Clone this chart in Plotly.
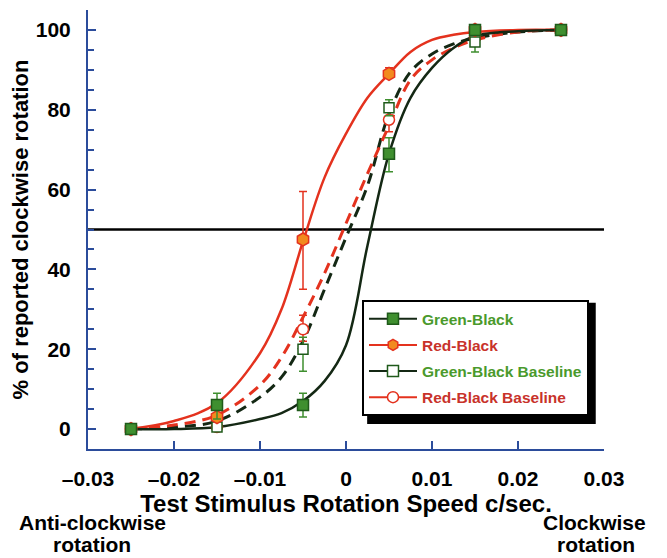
import plotly.graph_objects as go

# ---- data ----
speeds = [-0.025, -0.015, -0.005, 0.005, 0.015, 0.025]

gb_vals = [0, 6, 6, 69, 100, 100]
gb_err_plus = [0, 3, 3, 4, 0, 0]
gb_err_minus = [0, 3.5, 3, 4.5, 0, 0]

rb_vals = [0, 3, 47.5, 89, 100, 100]
rb_err_plus = [0, 0, 12, 1.5, 0, 0]
rb_err_minus = [0, 0, 12.5, 0, 0, 0]

gbb_vals = [0, 0.5, 20, 80.5, 97, 100]
gbb_err_plus = [0, 0, 3, 2, 2.5, 0]
gbb_err_minus = [0, 0, 5.5, 2, 2.5, 0]

rbb_vals = [0, 0.5, 25, 77.5, 98, 100]
rbb_err_plus = [0, 0, 3.5, 3, 0, 0]
rbb_err_minus = [0, 0, 3, 3, 0, 0]

# fitted curves
curve_x = [-0.025, -0.02, -0.015, -0.01, -0.0075, -0.005, -0.0025, 0,
           0.0025, 0.005, 0.0075, 0.01, 0.0125, 0.015, 0.02, 0.025]
gb_curve = [0, 0, 0.5, 2.5, 4, 7, 12, 21, 46, 69, 83, 90.5, 95.5, 98.5, 99.7, 100]
rb_curve = [0, 2, 6.5, 19, 30, 47, 63, 74, 83, 89, 94.5, 97.5, 98.8, 99.5, 100, 100]
gbb_curve = [0, 0.5, 2, 8, 13, 22, 35, 48, 61, 79, 89.5, 94, 96.5, 98, 99.5, 100]
rbb_curve = [0, 1, 3.5, 11, 18, 28, 39, 51.5, 64, 76, 87.5, 92.5, 95.5, 97.5, 99.5, 100]

names = ["Green-Black", "Red-Black", "Green-Black Baseline", "Red-Black Baseline"]
xticks = [-0.03, -0.02, -0.01, 0, 0.01, 0.02, 0.03]
xtick_text = ["\u20130.03", "\u20130.02", "\u20130.01", "0", "0.01", "0.02", "0.03"]
yticks = [0, 20, 40, 60, 80, 100]

GREEN_TXT = "#4a9a2c"
RED_TXT = "#c8322a"
BLACK_LINE = "#142814"
RED_LINE = "#e4321e"
GREEN_FILL = "#3f8f2f"
GREEN_EDGE = "#1f5a1a"
ORANGE_FILL = "#f28a1e"
AXIS_BLUE = "#2b4c9b"
FONT = "Liberation Sans, Arial, sans-serif"

fig = go.Figure()

# reference line at 50 %
fig.add_shape(type="line", xref="x", yref="y", x0=-0.03, x1=0.0303, y0=50, y1=50,
              line=dict(color="black", width=2.5), layer="below")
# legend drop shadow
fig.add_shape(type="rect", xref="paper", yref="paper", x0=0.541, x1=0.984, y0=0.057, y1=0.333,
              line=dict(width=0), fillcolor="black", layer="above")

# curves
fig.add_trace(go.Scatter(x=curve_x, y=gbb_curve, mode="lines", line_shape="spline",
                         line=dict(color=BLACK_LINE, width=3, dash="11px,7px"),
                         showlegend=False, hoverinfo="skip"))
fig.add_trace(go.Scatter(x=curve_x, y=rbb_curve, mode="lines", line_shape="spline",
                         line=dict(color=RED_LINE, width=3, dash="11px,7px"),
                         showlegend=False, hoverinfo="skip"))
fig.add_trace(go.Scatter(x=curve_x, y=rb_curve, mode="lines", line_shape="spline",
                         line=dict(color=RED_LINE, width=2.5),
                         showlegend=False, hoverinfo="skip"))
fig.add_trace(go.Scatter(x=curve_x, y=gb_curve, mode="lines", line_shape="spline",
                         line=dict(color=BLACK_LINE, width=2.5),
                         showlegend=False, hoverinfo="skip"))

# data points with error bars
def pts(vals, ep, em, symbol, fill, edge, ecol, size):
    return go.Scatter(
        x=speeds, y=vals, mode="markers", showlegend=False,
        marker=dict(symbol=symbol, size=size, color=fill, line=dict(color=edge, width=1.5)),
        error_y=dict(type="data", symmetric=False, array=ep, arrayminus=em,
                     color=ecol, thickness=1.5, width=4))

fig.add_trace(pts(rbb_vals, rbb_err_plus, rbb_err_minus, "circle", "white", RED_LINE, RED_LINE, 11))
fig.add_trace(pts(gbb_vals, gbb_err_plus, gbb_err_minus, "square", "white", GREEN_EDGE, GREEN_FILL, 10))
fig.add_trace(pts(rb_vals, rb_err_plus, rb_err_minus, "hexagon", ORANGE_FILL, RED_LINE, RED_LINE, 13))
fig.add_trace(pts(gb_vals, gb_err_plus, gb_err_minus, "square", GREEN_FILL, GREEN_EDGE, GREEN_FILL, 11))

# legend entries
legend_specs = [
    (names[0], GREEN_TXT, BLACK_LINE, "square", GREEN_FILL, GREEN_EDGE),
    (names[1], RED_TXT, RED_LINE, "hexagon", ORANGE_FILL, RED_LINE),
    (names[2], GREEN_TXT, BLACK_LINE, "square", "white", GREEN_EDGE),
    (names[3], RED_TXT, RED_LINE, "circle", "white", RED_LINE),
]
for i, (nm, tcol, lcol, sym, fill, edge) in enumerate(legend_specs):
    fig.add_trace(go.Scatter(
        x=[None], y=[None], mode="lines+markers", legendgroup=f"g{i}",
        name=f"<span style='color:{tcol}'><b>{nm}</b></span>",
        line=dict(color=lcol, width=2),
        marker=dict(symbol=sym, size=11, color=fill, line=dict(color=edge, width=1.5))))

def note(text, x, yshift):
    return dict(text=f"<b>{text}</b>", xref="paper", yref="paper",
                x=x, y=0, yshift=yshift, xanchor="center", yanchor="middle",
                showarrow=False, font=dict(family=FONT, size=21))

# page body adds an 8px offset, so margins are shifted accordingly
fig.update_layout(
    width=667, height=558,
    margin=dict(l=80, r=71, t=2, b=117, autoexpand=False),
    paper_bgcolor="white", plot_bgcolor="white",
    font=dict(family=FONT, size=16, color="black"),
    showlegend=True,
    legend=dict(x=0.531, y=0.339, xanchor="left", yanchor="top",
                bgcolor="white", bordercolor="black", borderwidth=2,
                font=dict(family=FONT, size=15.5), itemwidth=48,
                tracegroupgap=3),
    annotations=[
        note("Anti-clockwise", 0.008, -73),
        note("rotation", 0.008, -95),
        note("Clockwise", 0.981, -73),
        note("rotation", 0.985, -95),
    ],
)

fig.update_xaxes(
    range=[-0.03, 0.03], tickvals=xticks, ticktext=xtick_text,
    showline=True, linecolor=AXIS_BLUE, linewidth=2,
    ticks="inside", ticklen=8, tickwidth=2, tickcolor=AXIS_BLUE,
    showgrid=False, zeroline=False,
    tickfont=dict(family=FONT, size=21, weight="bold"),
    ticklabelstandoff=10,
    title=dict(text="<b>Test Stimulus Rotation Speed c/sec.</b>", standoff=0,
               font=dict(family=FONT, size=24)),
)
fig.update_yaxes(
    range=[-5, 105], tickvals=yticks,
    showline=True, linecolor=AXIS_BLUE, linewidth=2,
    ticks="inside", ticklen=8, tickwidth=2, tickcolor=AXIS_BLUE,
    minor=dict(dtick=5, tick0=0, ticks="inside", ticklen=6, tickwidth=1.5, tickcolor=AXIS_BLUE),
    showgrid=False, zeroline=False,
    tickfont=dict(family=FONT, size=21, weight="bold"),
    ticklabelstandoff=11,
    title=dict(text="<b>% of reported clockwise rotation</b>", standoff=6,
               font=dict(family=FONT, size=22)),
)

fig.write_html("out.html")
